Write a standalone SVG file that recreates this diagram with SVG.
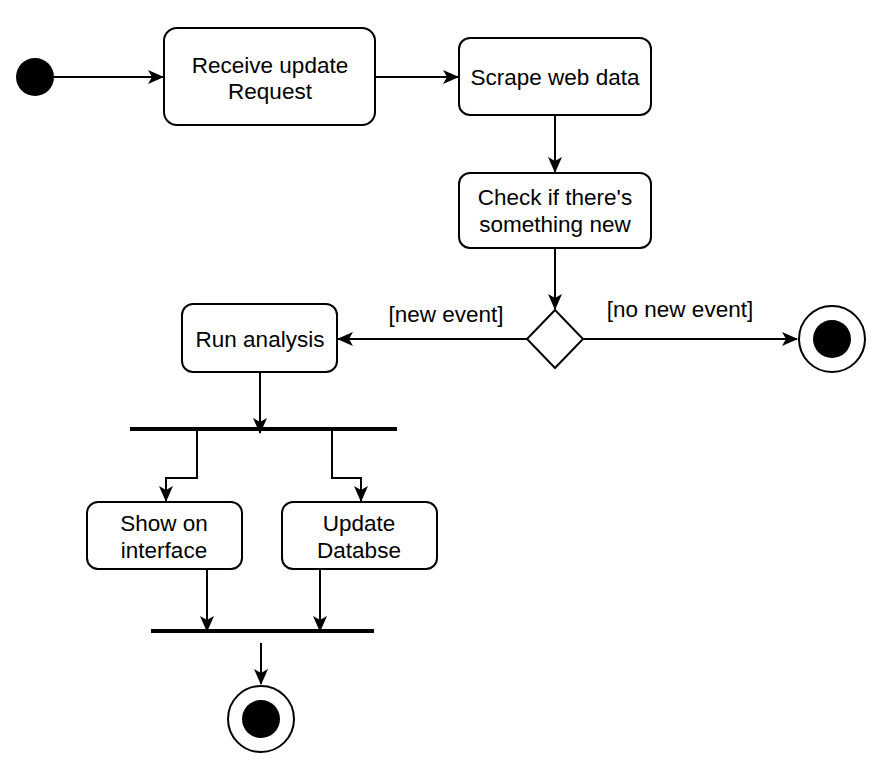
<svg xmlns="http://www.w3.org/2000/svg" width="896" height="773" viewBox="0 0 896 773">
<style>
.box{fill:#fff;stroke:#000;stroke-width:2}
.t{font-family:"Liberation Sans",Arial,sans-serif;font-size:22.5px;fill:#000;text-anchor:middle}
.c{fill:none;stroke:#000;stroke-width:2}
.bar{stroke:#000;stroke-width:4}
</style>
<defs>
<marker id="a" markerUnits="userSpaceOnUse" markerWidth="16" markerHeight="16" viewBox="0 0 16 16" refX="15" refY="8" orient="auto">
<path d="M0,1 L16,8 L0,15 L4,8 Z" fill="#000"/>
</marker>
</defs>
<rect width="896" height="773" fill="#fff"/>
<g id="connectors">
<path class="c" d="M53,77 H163" marker-end="url(#a)"/>
<path class="c" d="M375,77 H458" marker-end="url(#a)"/>
<path class="c" d="M555,115 V172" marker-end="url(#a)"/>
<path class="c" d="M555,248 V309" marker-end="url(#a)"/>
<path class="c" d="M527,339 H338" marker-end="url(#a)"/>
<path class="c" d="M583,339 H797" marker-end="url(#a)"/>
<path class="c" d="M260,372 V433" marker-end="url(#a)"/>
<path class="c" d="M197,429 V478 H166 V501" marker-end="url(#a)"/>
<path class="c" d="M332,429 V478 H361 V501" marker-end="url(#a)"/>
<path class="c" d="M207,569 V631" marker-end="url(#a)"/>
<path class="c" d="M320,569 V631" marker-end="url(#a)"/>
<path class="c" d="M261,643 V684" marker-end="url(#a)"/>
<text class="t" x="446" y="322">[new event]</text>
<text class="t" x="680" y="317">[no new event]</text>
</g>
<g id="start"><circle cx="35" cy="77" r="19" fill="#000"/></g>
<g id="receive"><rect class="box" x="164" y="28" width="211" height="97" rx="13"/><text class="t" x="270" y="73">Receive update</text><text class="t" x="270" y="99">Request</text></g>
<g id="scrape"><rect class="box" x="459" y="38" width="192" height="77" rx="11"/><text class="t" x="555" y="85">Scrape web data</text></g>
<g id="check"><rect class="box" x="459" y="173" width="192" height="75" rx="11"/><text class="t" x="555" y="205">Check if there's</text><text class="t" x="555" y="232">something new</text></g>
<g id="decision"><path class="box" d="M555,310 L583,339 L555,368 L527,339 Z"/></g>
<g id="end1"><circle cx="832" cy="339" r="33" fill="#fff" stroke="#000" stroke-width="2"/><circle cx="832" cy="339" r="19" fill="#000"/></g>
<g id="run"><rect class="box" x="182" y="304" width="155" height="68" rx="11"/><text class="t" x="260" y="347">Run analysis</text></g>
<g id="fork"><line class="bar" x1="130" y1="429" x2="397" y2="429"/></g>
<g id="show"><rect class="box" x="87" y="502" width="155" height="67" rx="11"/><text class="t" x="164" y="531">Show on</text><text class="t" x="164" y="558">interface</text></g>
<g id="update"><rect class="box" x="282" y="502" width="155" height="67" rx="11"/><text class="t" x="359" y="531">Update</text><text class="t" x="359" y="558">Databse</text></g>
<g id="join"><line class="bar" x1="151" y1="631" x2="374" y2="631"/></g>
<g id="end2"><circle cx="261" cy="719" r="33" fill="#fff" stroke="#000" stroke-width="2"/><circle cx="261" cy="719" r="19" fill="#000"/></g>
</svg>
